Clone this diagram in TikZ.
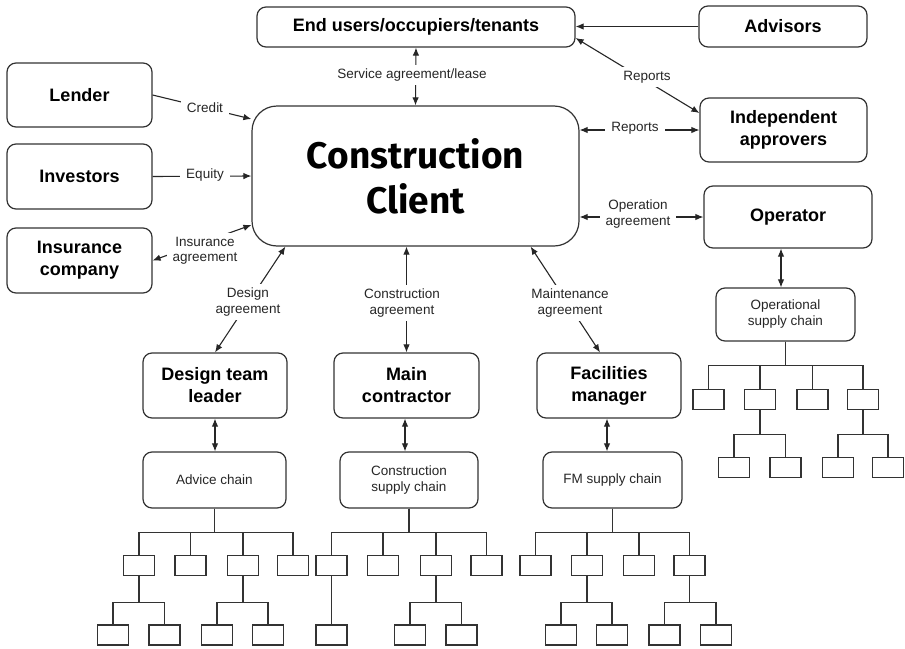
\documentclass[tikz,border=0pt]{standalone}
\usepackage{fontspec}
\setmainfont{Liberation Sans}
\newfontfamily\titlefont{Fira Sans}
\usetikzlibrary{arrows.meta}
\begin{document}
\begin{tikzpicture}[x=1pt,y=-1pt,
  bx/.style={draw=black!80, line width=1.2pt, rounded corners=9pt, align=center, inner sep=0pt, font=\fontsize{18}{22}\selectfont\bfseries},
  chainbox/.style={draw=black!80, line width=1.2pt, rounded corners=9pt, align=center, inner sep=0pt, text=black!85, font=\fontsize{13.5}{16}\selectfont},
  leaf/.style={draw=black!80, line width=1.1pt, minimum width=31pt, minimum height=20pt, inner sep=0pt},
  lbl/.style={fill=white, font=\fontsize{13.5}{15.5}\selectfont, text=black!85, align=center, inner xsep=6pt, inner ysep=4pt},
  conn/.style={line width=1.1pt, draw=black!85},
  arr/.style={conn, -{Latex[length=8pt,width=6.5pt]}},
  darr/.style={conn, {Latex[length=8pt,width=6.5pt]}-{Latex[length=8pt,width=6.5pt]}},
  tree/.style={line width=1.1pt, draw=black!80}
]
\fill[white] (0,0) rectangle (905,648);
\useasboundingbox (0,0) rectangle (905,648);

% main boxes
\node[bx, minimum width=318pt, minimum height=40pt] (endusers) at (416,27) {End users/occupiers/tenants};
\node[bx, minimum width=168pt, minimum height=41pt] (advisors) at (783,26.5) {Advisors};
\node[bx, minimum width=145pt, minimum height=64pt] (lender) at (79.5,95) {Lender};
\node[bx, minimum width=145pt, minimum height=65pt] (investors) at (79.5,176.5) {Investors};
\node[bx, minimum width=145pt, minimum height=65pt] (insurance) at (79.5,260.5) {Insurance\\company};
\node[bx, rounded corners=25pt, minimum width=327pt, minimum height=140pt, font=\titlefont\fontsize{37}{45}\selectfont\bfseries] (client) at (415.5,176) {Construction\\Client};
\node[bx, minimum width=167pt, minimum height=64pt] (indep) at (783.5,130) {Independent\\approvers};
\node[bx, minimum width=168pt, minimum height=62pt] (operator) at (788,217) {Operator};
\node[bx, minimum width=144pt, minimum height=65pt] (dtl) at (215,385.5) {Design team\\leader};
\node[bx, minimum width=145pt, minimum height=65pt] (mc) at (406.5,385.5) {Main\\contractor};
\node[bx, minimum width=144pt, minimum height=65pt] (fm) at (609,385.5) {Facilities\\manager};

% chain boxes
\node[chainbox, minimum width=143pt, minimum height=56pt] (advice) at (214.5,480) {Advice chain};
\node[chainbox, minimum width=138pt, minimum height=56pt] (csc) at (409,480) {Construction\\supply chain};
\node[chainbox, minimum width=139pt, minimum height=56pt] (fmsc) at (612.5,480) {FM supply chain};
\node[chainbox, minimum width=139pt, minimum height=53pt] (osc) at (785.5,314.5) {Operational\\supply chain};

% connector end points
\coordinate (cCredit) at ([yshift=57pt]client.west);
\coordinate (cIns) at ([yshift=-49pt]client.west);
\coordinate (cDesign) at ([xshift=34pt]client.south west);
\coordinate (cMaint) at ([xshift=-49pt]client.south east);
\coordinate (euRep) at ([yshift=-11pt]endusers.east);
\coordinate (iaRep) at ([yshift=17pt]indep.west);

% connectors
\draw[arr] (lender.east) -- (cCredit);
\draw[arr] (investors.east) -- (client.west);
\draw[darr] (cIns) -- (insurance.east);
\draw[darr] (endusers.south) -- (client.north);
\draw[arr] (advisors.west) -- (advisors.west -| endusers.east);
\draw[darr] (euRep) -- (iaRep);
\draw[darr] (indep.west -| client.east) -- (indep.west);
\draw[darr] (operator.west -| client.east) -- (operator.west);
\draw[darr] (cDesign) -- (dtl.north);
\draw[darr] (mc.north |- client.south) -- (mc.north);
\draw[darr] (cMaint) -- ([xshift=-9pt]fm.north);
\draw[darr] (dtl.south) -- (dtl.south |- advice.north);
\draw[darr] ([xshift=-1.5pt]mc.south) -- ([xshift=-1.5pt]mc.south |- csc.north);
\draw[darr] ([xshift=-2pt]fm.south) -- ([xshift=-2pt]fm.south |- fmsc.north);
\draw[darr] ([xshift=-7pt]operator.south) -- ([xshift=-7pt]operator.south |- osc.north);

% labels
\node[lbl] (lService) at (412,75) {Service agreement/lease};
\node[lbl] (lCredit) at (205,108) {Credit};
\node[lbl] (lEquity) at (205,175) {Equity};
\node[lbl] (lIns) at (205,251) {Insurance\\agreement};
\node[lbl] (lDesign) at (248,302) {Design\\agreement};
\node[lbl] (lCons) at (402,303) {Construction\\agreement};
\node[lbl] (lMaint) at (570,303) {Maintenance\\agreement};
\node[lbl] (lRep1) at (647,77) {Reports};
\node[lbl] (lRep2) at (635,128) {Reports};
\node[lbl] (lOp) at (638,214) {Operation\\agreement};

% advice tree
\foreach \n/\x in {a1/139,a2/190.5,a3/243,a4/293} {\node[leaf] (\n) at (\x,565.5) {};}
\foreach \n/\x in {a11/113,a12/164.5,a31/217,a32/268} {\node[leaf] (\n) at (\x,635) {};}
\foreach \n in {a1,a2,a3,a4} {\draw[tree] (advice.south) -- ++(0,24) -| (\n.north);}
\foreach \n in {a11,a12} {\draw[tree] (a1.south) -- ++(0,26) -| (\n.north);}
\foreach \n in {a31,a32} {\draw[tree] (a3.south) -- ++(0,26) -| (\n.north);}

% construction tree
\foreach \n/\x in {c1/331.5,c2/383,c3/436,c4/486.5} {\node[leaf] (\n) at (\x,565.5) {};}
\foreach \n/\x in {c11/331.5,c31/410,c32/461.5} {\node[leaf] (\n) at (\x,635) {};}
\foreach \n in {c1,c2,c3,c4} {\draw[tree] (csc.south) -- ++(0,24) -| (\n.north);}
\draw[tree] (c1.south) -- (c11.north);
\foreach \n in {c31,c32} {\draw[tree] (c3.south) -- ++(0,26) -| (\n.north);}

% FM tree
\foreach \n/\x in {f1/535.5,f2/587,f3/639,f4/689.5} {\node[leaf] (\n) at (\x,565.5) {};}
\foreach \n/\x in {f21/561,f22/612,f41/664.5,f42/716} {\node[leaf] (\n) at (\x,635) {};}
\foreach \n in {f1,f2,f3,f4} {\draw[tree] (fmsc.south) -- ++(0,24) -| (\n.north);}
\foreach \n in {f21,f22} {\draw[tree] (f2.south) -- ++(0,26) -| (\n.north);}
\foreach \n in {f41,f42} {\draw[tree] (f4.south) -- ++(0,26) -| (\n.north);}

% operational tree
\foreach \n/\x in {o1/708.5,o2/760,o3/812.5,o4/863} {\node[leaf] (\n) at (\x,399.5) {};}
\foreach \n/\x in {o21/734,o22/785.5,o41/838,o42/888} {\node[leaf] (\n) at (\x,467.5) {};}
\foreach \n in {o1,o2,o3,o4} {\draw[tree] (osc.south) -- ++(0,24) -| (\n.north);}
\foreach \n in {o21,o22} {\draw[tree] (o2.south) -- ++(0,24) -| (\n.north);}
\foreach \n in {o41,o42} {\draw[tree] (o4.south) -- ++(0,24) -| (\n.north);}
\end{tikzpicture}
\end{document}
